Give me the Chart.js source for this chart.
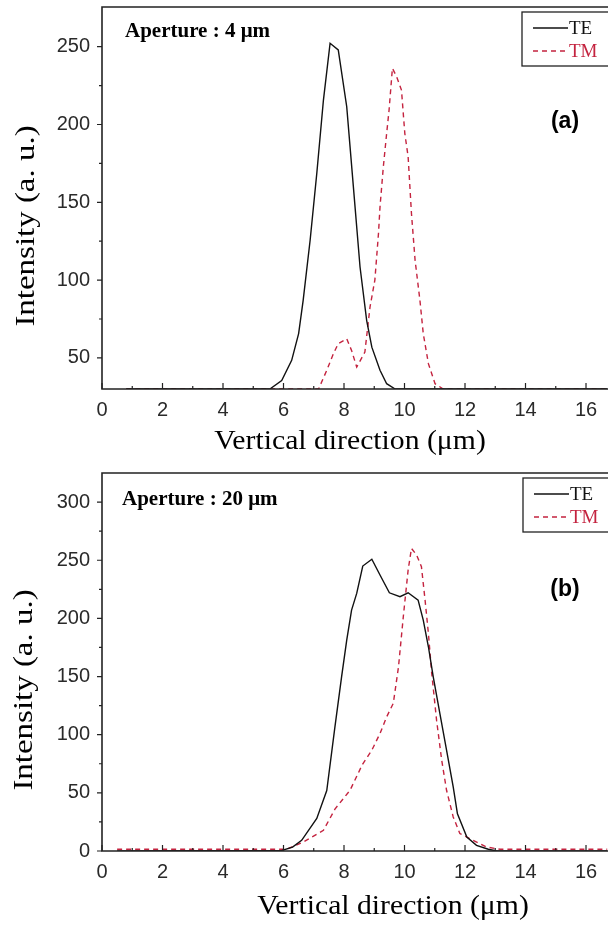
<!DOCTYPE html>
<html><head><meta charset="utf-8">
<script src="https://cdn.jsdelivr.net/npm/chart.js@4.4.1/dist/chart.umd.min.js"></script>
<style>
html,body{margin:0;padding:0;background:#fff;overflow:hidden;width:608px;height:927px}
canvas{position:absolute;left:0}
#ca{top:0}
#cb{top:460px}
</style></head><body>
<canvas id="ca" width="608" height="460"></canvas>
<canvas id="cb" width="608" height="467"></canvas>
<script>
// ---- data ----
const xMajorTicks = [0, 2, 4, 6, 8, 10, 12, 14, 16];
const xMinorTicks = [1, 3, 5, 7, 9, 11, 13, 15];
const yTicksA = [50, 100, 150, 200, 250];
const yMinorA = [75, 125, 175, 225];
const yTicksB = [0, 50, 100, 150, 200, 250, 300];
const yMinorB = [25, 75, 125, 175, 225, 275];

const teA_x = [0.8, 5.55, 5.94, 6.27, 6.50, 6.65, 6.88, 7.10, 7.32, 7.54, 7.81, 8.09, 8.31, 8.53, 8.75, 8.92, 9.19, 9.41, 9.69, 16.7];
const teA_y = [30, 30, 35.5, 48.4, 65.6, 87, 125.6, 168.5, 215.7, 252.2, 247.9, 211.4, 159.9, 108.4, 74, 56.9, 42, 33.4, 30, 30];
const tmA_x = [0.8, 7.16, 7.43, 7.65, 7.81, 8.09, 8.25, 8.42, 8.69, 8.86, 9.02, 9.14, 9.19, 9.30, 9.41, 9.49, 9.60, 9.74, 9.90, 10.01, 10.12, 10.23, 10.35, 10.51, 10.62, 10.79, 11.01, 11.28, 16.7];
const tmA_y = [30, 30, 42, 52.7, 59.2, 62.3, 54.8, 44.1, 53.7, 82.7, 100, 130, 147, 172.8, 194.3, 209.3, 236.1, 230.7, 222.1, 194.3, 179.2, 142.8, 112.7, 87, 65.6, 46.3, 33.4, 30, 30];

const teB_x = [0.5, 5.95, 6.3, 6.6, 7.10, 7.43, 7.70, 7.92, 8.09, 8.25, 8.42, 8.62, 8.92, 9.19, 9.50, 9.85, 10.12, 10.45, 10.62, 10.79, 10.95, 11.17, 11.39, 11.61, 11.75, 12.06, 12.38, 12.77, 13.05, 16.7];
const teB_y = [0, 0.5, 3.4, 9.2, 28, 52, 106.7, 149.7, 181.3, 207.1, 221.5, 245, 250.8, 237.3, 222, 218.6, 222, 215.7, 198.5, 175.6, 149.7, 118.2, 86.7, 55.1, 32, 12, 4.9, 1.5, 0, 0];
const tmB_x = [0.5, 6.10, 6.65, 7.32, 7.70, 8.20, 8.60, 8.92, 9.19, 9.41, 9.63, 9.80, 9.97, 10.12, 10.23, 10.40, 10.56, 10.68, 10.79, 10.90, 11.06, 11.23, 11.39, 11.61, 11.83, 12.27, 12.71, 13.16, 16.7];
const tmB_y = [1.5, 1.5, 7.7, 17.8, 36, 52.2, 74, 86.7, 101, 115.3, 127, 158, 204, 241.6, 260.2, 254.5, 244.4, 215.7, 187.1, 152.7, 112.5, 78, 52.2, 29.3, 15, 9.2, 3.4, 1.5, 1.5];

const seriesNames = ['TE', 'TM'];
const xTitle = 'Vertical direction (μm)';
const yTitle = 'Intensity (a. u.)';

// ---- styling ----
const TE_COLOR = '#111111';
const TM_COLOR = '#c4233f';
const AXIS_COLOR = '#222222';
const SANS = '"Liberation Sans", Arial, sans-serif';
const SERIF = '"Liberation Serif", "Times New Roman", serif';

function pts(xs, ys) { return xs.map((x, i) => ({x: x, y: ys[i]})); }

const decoPlugin = {
  id: 'deco',
  afterDraw(chart, args, o) {
    const ctx = chart.ctx;
    const {left, top, right, bottom} = chart.chartArea;
    const xs = chart.scales.x, ys = chart.scales.y;
    ctx.save();
    // frame: left, top, bottom
    ctx.strokeStyle = AXIS_COLOR;
    ctx.lineWidth = 1.6;
    ctx.beginPath();
    ctx.moveTo(right + 2, top); ctx.lineTo(left, top); ctx.lineTo(left, bottom); ctx.lineTo(right + 2, bottom);
    ctx.stroke();
    // x ticks (inward)
    ctx.lineWidth = 1.2;
    ctx.beginPath();
    xMajorTicks.forEach(v => { const p = xs.getPixelForValue(v); ctx.moveTo(p, bottom); ctx.lineTo(p, bottom - 6); });
    xMinorTicks.forEach(v => { const p = xs.getPixelForValue(v); ctx.moveTo(p, bottom); ctx.lineTo(p, bottom - 3); });
    // y ticks (outward)
    o.yMajor.forEach(v => { const p = ys.getPixelForValue(v); ctx.moveTo(left, p); ctx.lineTo(left - 5, p); });
    o.yMinor.forEach(v => { const p = ys.getPixelForValue(v); ctx.moveTo(left, p); ctx.lineTo(left - 3, p); });
    ctx.stroke();

    // aperture label
    ctx.fillStyle = '#000';
    ctx.font = 'bold 21px ' + SERIF;
    ctx.textBaseline = 'middle';
    ctx.textAlign = 'left';
    ctx.fillText(o.aperture, o.apX, o.apY);
    // panel tag
    ctx.font = 'bold 23px ' + SANS;
    ctx.textAlign = 'center';
    ctx.fillText(o.tag, o.tagX, o.tagY);

    // legend box
    ctx.lineWidth = 1.3;
    ctx.strokeStyle = AXIS_COLOR;
    ctx.strokeRect(o.lgX, o.lgY, 120, 54);
    const ds = chart.data.datasets;
    ds.forEach((d, i) => {
      const y = o.lgY + 16 + i * 23;
      ctx.strokeStyle = d.borderColor;
      ctx.lineWidth = 1.3;
      ctx.setLineDash(d.borderDash || []);
      ctx.beginPath(); ctx.moveTo(o.lgX + 11, y); ctx.lineTo(o.lgX + 46, y); ctx.stroke();
      ctx.setLineDash([]);
      ctx.fillStyle = d.borderColor;
      ctx.font = '19px ' + SERIF;
      ctx.textAlign = 'left';
      ctx.fillText(d.label, o.lgX + 47, y + 1);
    });

    // axis titles
    ctx.fillStyle = '#000';
    ctx.font = '27px ' + SERIF;
    ctx.textAlign = 'center';
    ctx.save();
    ctx.translate(o.xtX, o.xtY);
    ctx.scale(1.1, 1);
    ctx.fillText(xTitle, 0, 0);
    ctx.restore();
    ctx.save();
    ctx.translate(o.ytX, o.ytY);
    ctx.rotate(-Math.PI / 2);
    ctx.scale(1.22, 1);
    ctx.fillText(yTitle, 0, 0);
    ctx.restore();
    ctx.restore();
  }
};

function makeChart(id, H, frameTop, frameBottom, yMin, yMax, yMajor, yMinor, te, tm, deco) {
  return new Chart(document.getElementById(id), {
    type: 'line',
    data: {
      datasets: [
        {label: seriesNames[0], data: te, borderColor: TE_COLOR, borderWidth: 1.4, pointRadius: 0, tension: 0, fill: false},
        {label: seriesNames[1], data: tm, borderColor: TM_COLOR, borderWidth: 1.4, borderDash: [5, 4], pointRadius: 0, tension: 0, fill: false}
      ]
    },
    options: {
      responsive: false,
      animation: false,
      layout: {padding: {top: frameTop, left: 0, right: 0, bottom: 0}},
      plugins: {legend: {display: false}, tooltip: {enabled: false}, title: {display: false}, deco: deco},
      scales: {
        x: {
          type: 'linear', min: 0, max: 16.727,
          grid: {display: false, drawTicks: false},
          border: {display: false},
          afterBuildTicks: s => { s.ticks = xMajorTicks.map(v => ({value: v})); },
          afterFit: s => { s.height = H - frameBottom; s.paddingLeft = 0; s.paddingRight = 0; s.paddingTop = 0; s.paddingBottom = 0; },
          ticks: {padding: 9, color: '#2a2a2a', font: {family: SANS, size: 20}, maxRotation: 0, autoSkip: false}
        },
        y: {
          type: 'linear', min: yMin, max: yMax,
          grid: {display: false, drawTicks: false},
          border: {display: false},
          afterBuildTicks: s => { s.ticks = yMajor.map(v => ({value: v})); },
          afterFit: s => { s.width = 102; s.paddingTop = 0; s.paddingBottom = 0; s.paddingLeft = 0; s.paddingRight = 0; },
          ticks: {padding: 12, color: '#2a2a2a', font: {family: SANS, size: 20}}
        }
      }
    },
    plugins: [decoPlugin]
  });
}

makeChart('ca', 460, 7, 389, 30, 275.5, yTicksA, yMinorA, pts(teA_x, teA_y), pts(tmA_x, tmA_y),
  {aperture: 'Aperture : 4 μm', apX: 125, apY: 32, tag: '(a)', tagX: 565, tagY: 122,
   lgX: 522, lgY: 12, xtX: 350, xtY: 442, ytX: 27, ytY: 226, yMajor: yTicksA, yMinor: yMinorA});
makeChart('cb', 467, 13, 391, 0, 325, yTicksB, yMinorB, pts(teB_x, teB_y), pts(tmB_x, tmB_y),
  {aperture: 'Aperture : 20 μm', apX: 122, apY: 40, tag: '(b)', tagX: 565, tagY: 130,
   lgX: 523, lgY: 18, xtX: 393, xtY: 447, ytX: 25, ytY: 230, yMajor: yTicksB, yMinor: yMinorB});
</script>
</body></html>
